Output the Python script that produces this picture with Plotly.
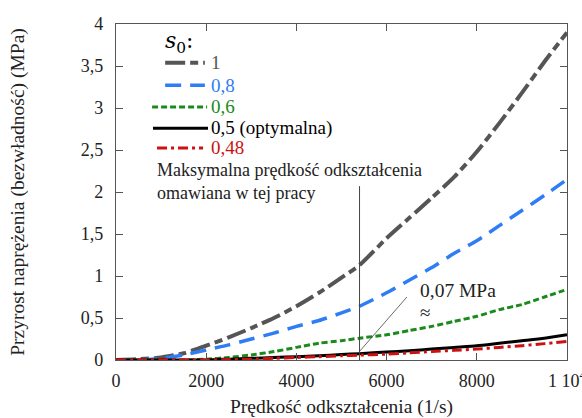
import plotly.graph_objects as go

# ---- data ----
strain_rate = [0, 500, 1000, 1500, 2000, 2500, 3000, 3500, 4000, 4500, 5000, 5400,
               6000, 6500, 7000, 7500, 8000, 8500, 9000, 9500, 10000]
s_1 = [0, 0.01, 0.03, 0.08, 0.17, 0.27, 0.38, 0.5, 0.64, 0.8, 0.98, 1.13,
       1.45, 1.69, 1.93, 2.18, 2.48, 2.82, 3.18, 3.55, 3.9]
s_08 = [0, 0.0, 0.02, 0.06, 0.12, 0.18, 0.25, 0.32, 0.4, 0.47, 0.56, 0.64,
        0.8, 0.95, 1.1, 1.27, 1.42, 1.6, 1.78, 1.96, 2.15]
s_06 = [0, 0, 0, 0, 0.01, 0.03, 0.06, 0.1, 0.15, 0.2, 0.23, 0.26,
        0.3, 0.35, 0.4, 0.46, 0.52, 0.6, 0.66, 0.75, 0.84]
s_05 = [0, 0, 0, 0, 0, 0.01, 0.02, 0.03, 0.04, 0.05, 0.065, 0.075,
        0.095, 0.11, 0.13, 0.15, 0.17, 0.2, 0.23, 0.26, 0.3]
s_048 = [0, 0, 0, 0, 0, 0.005, 0.01, 0.02, 0.03, 0.04, 0.05, 0.058,
         0.07, 0.085, 0.1, 0.115, 0.13, 0.15, 0.17, 0.195, 0.22]

series_names = ["1", "0,8", "0,6", "0,5 (optymalna)", "0,48"]
series_values = [s_1, s_08, s_06, s_05, s_048]
series_colors = ["#555555", "#2f7df6", "#1a8a1a", "#000000", "#cc1111"]
series_dash = ["20px,5px,8px,5px", "16px,9px", "6px,3px", "solid", "10px,4px,3px,4px"]
series_width = [4, 3.5, 3, 3, 3]

max_rate_x = [5400, 5400]
max_rate_y = [0, 2.07]
pointer_x = [5380, 6450]
pointer_y = [0.09, 0.75]

x_ticks = [0, 2000, 4000, 6000, 8000, 10000]
x_ticktext = ["0", "2000", "4000", "6000", "8000", "1 10<sup>4</sup>"]
y_ticks = [0, 0.5, 1, 1.5, 2, 2.5, 3, 3.5, 4]
y_ticktext = ["0", "0,5", "1", "1,5", "2", "2,5", "3", "3,5", "4"]

FONT = "Liberation Serif, Times New Roman, serif"
TXT = "#222222"

fig = go.Figure()
for name, vals, col, dash, w in zip(series_names, series_values, series_colors,
                                    series_dash, series_width):
    fig.add_trace(go.Scatter(
        x=strain_rate, y=vals, mode="lines", name=name, showlegend=False,
        line=dict(color=col, dash=dash, width=w, shape="spline", smoothing=0.6),
    ))

fig.add_trace(go.Scatter(x=max_rate_x, y=max_rate_y, mode="lines", showlegend=False,
                         line=dict(color="#444444", width=1)))
fig.add_trace(go.Scatter(x=pointer_x, y=pointer_y, mode="lines", showlegend=False,
                         line=dict(color="#444444", width=0.8)))

# ---- hand-drawn legend (layout positions in paper coords) ----
leg_rows_y = [0.885, 0.818, 0.753, 0.690, 0.631]
leg_x0 = [0.109, 0.109, 0.080, 0.082, 0.091]
leg_x1 = [0.197, 0.197, 0.202, 0.204, 0.193]
leg_text_x = 0.206
for name, col, dash, w, ry, x0, x1 in zip(series_names, series_colors, series_dash,
                                          series_width, leg_rows_y, leg_x0, leg_x1):
    fig.add_shape(type="line", xref="paper", yref="paper", x0=x0, x1=x1, y0=ry, y1=ry,
                  line=dict(color=col, dash=dash, width=w))
    fig.add_annotation(xref="paper", yref="paper", x=leg_text_x, y=ry,
                       xanchor="left", yanchor="middle", showarrow=False, text=name,
                       font=dict(family=FONT, size=19, color=col))
fig.add_annotation(xref="paper", yref="paper", x=0.105, y=0.946,
                   xanchor="left", yanchor="middle", showarrow=False,
                   text="<i>s</i><sub>0</sub>:",
                   font=dict(family="DejaVu Serif, serif", size=22, color="#000000"))

fig.add_annotation(x=860, y=2.4, xref="x", yref="y", xanchor="left", yanchor="top",
                   text="Maksymalna prędkość odkształcenia<br>omawiana w tej pracy",
                   showarrow=False, align="left",
                   font=dict(family=FONT, size=18, color=TXT))
fig.add_annotation(x=6700, y=0.83, xref="x", yref="y", xanchor="left", yanchor="middle",
                   text="0,07 MPa", showarrow=False,
                   font=dict(family=FONT, size=19.5, color=TXT))
fig.add_annotation(x=6700, y=0.57, xref="x", yref="y", xanchor="left", yanchor="middle",
                   text="≈", showarrow=False,
                   font=dict(family=FONT, size=19, color=TXT))

axis_common = dict(showgrid=False, zeroline=False, showline=True, linecolor="#555555",
                   linewidth=1.2, mirror="ticks", ticks="inside", ticklen=7,
                   tickcolor="#555555", tickfont=dict(family=FONT, size=18, color=TXT),
                   automargin=False)

fig.update_xaxes(range=[0, 10000], tickvals=x_ticks, ticktext=x_ticktext,
                 ticklabeloverflow="allow", ticklabelstandoff=4,
                 title=dict(text="Prędkość odkształcenia (1/s)",
                            font=dict(family=FONT, size=19.5, color=TXT), standoff=16),
                 **axis_common)
fig.update_yaxes(range=[0, 4], tickvals=y_ticks, ticktext=y_ticktext,
                 ticklabelstandoff=8,
                 title=dict(text="Przyrost naprężenia (bezwładność) (MPa)",
                            font=dict(family=FONT, size=19.5, color=TXT), standoff=50),
                 **axis_common)

fig.update_layout(
    width=582, height=418,
    margin=dict(l=116, r=15, t=24, b=58),
    plot_bgcolor="white", paper_bgcolor="white",
    showlegend=False,
)

fig.write_html("out.html")
